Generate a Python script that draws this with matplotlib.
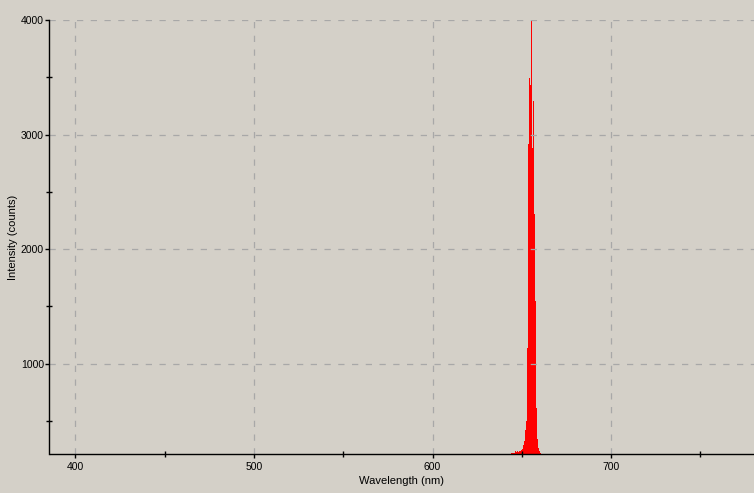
import matplotlib.pyplot as plt
from matplotlib.ticker import MultipleLocator

# spectrum around the red emission line (nm, counts)
wavelength = [380.0, 643.9, 644.5, 645.1, 645.7, 646.2, 646.8, 647.3, 647.9, 648.5,
              649.0, 649.6, 650.2, 650.7, 651.3, 651.8, 652.4, 653.0, 653.5, 654.1,
              654.6, 655.2, 655.8, 656.3, 656.9, 657.5, 658.0, 658.6, 659.1, 659.7,
              660.3, 660.8, 661.4, 790.0]
intensity = [0, 0, 215, 222, 220, 232, 225, 235, 228, 240,
             240, 245, 255, 290, 320, 420, 500, 1140, 2920, 3490,
             3430, 4050, 2880, 3290, 2310, 1550, 610, 340, 260, 232,
             218, 212, 0, 0]

bg = '#d4d0c8'
plt.rcParams['font.family'] = ['Liberation Sans', 'DejaVu Sans']
plt.rcParams['font.size'] = 8

fig = plt.figure(figsize=(7.54, 4.93), dpi=100, facecolor=bg)
ax = fig.add_axes([49.5 / 754, 39 / 493, 704.5 / 754, 434 / 493])
ax.set_facecolor(bg)

ax.fill_between(wavelength, 0, intensity, step='mid', color='#ff0000', linewidth=0)

ax.set_xlim(385.5, 780)
ax.set_ylim(210, 4000)

ax.xaxis.set_major_locator(MultipleLocator(100))
ax.xaxis.set_minor_locator(MultipleLocator(50))
ax.yaxis.set_major_locator(MultipleLocator(1000))
ax.yaxis.set_minor_locator(MultipleLocator(500))

ax.grid(True, which='major', color='#a8a8a8', linestyle=(0, (5, 6)), linewidth=0.9)
ax.tick_params(which='major', direction='out', length=3, width=1, color='black',
               pad=1, labelsize=7.5)
ax.tick_params(axis='x', which='major', pad=3)
ax.tick_params(which='minor', direction='inout', length=5, width=1, color='black')

for s in ['top', 'right']:
    ax.spines[s].set_visible(False)
for s in ['left', 'bottom']:
    ax.spines[s].set_color('black')
    ax.spines[s].set_linewidth(1)

ax.set_xlabel('Wavelength (nm)', labelpad=3)
ax.set_ylabel('Intensity (counts)')
ax.yaxis.set_label_coords(-0.045, 0.5)

fig.savefig('out.png', dpi=100, facecolor=bg)
